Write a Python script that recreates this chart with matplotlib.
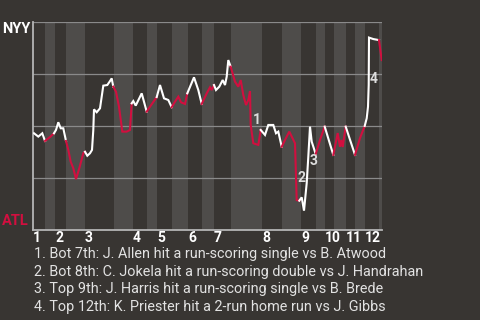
import matplotlib
matplotlib.use("Agg")
import matplotlib.pyplot as plt
import numpy as np

# ---- data -------------------------------------------------------------
# game progress (play position) and NYY win probability
progress = [1, 5.3, 9.3, 12, 17, 21, 23, 25.3, 27.7, 30.3, 33, 35.3, 37.7, 40.3, 43,
            46.3, 50.3, 52, 54.3, 57, 59, 60.3, 61, 63.7, 67, 68.7, 70.3, 74.3, 77,
            78.7, 80.3, 83, 86, 89.3, 93.7, 97, 98.7, 100.3, 102.7, 108.7, 113.7, 117,
            123.7, 127, 131, 135.3, 138.7, 142, 145.3, 148, 152, 154.3, 161, 165.3,
            168.7, 173.7, 177, 178.7, 181, 183, 186.3, 189.7, 192, 193.7, 195.3, 197.7,
            202, 205.3, 207.7, 210.3, 213, 215.3, 217, 217.7, 220.3, 225.3, 227.7, 232,
            235.3, 240.3, 243, 245.3, 248.7, 252, 256.3, 262, 263.7, 266.3, 268.7, 271,
            273.7, 275.3, 277, 278.7, 282.7, 287, 291.7, 300.3, 304.7, 307, 308.3,
            309.7, 312.7, 322, 327, 331.7, 333.7, 335, 335.7, 336, 340.3, 346, 348.7]
win_prob = [0.465, 0.449, 0.465, 0.428, 0.447, 0.465, 0.481, 0.518, 0.489, 0.489, 0.428,
            0.385, 0.328, 0.297, 0.245, 0.297, 0.369, 0.376, 0.357, 0.369, 0.385, 0.481,
            0.580, 0.566, 0.585, 0.641, 0.694, 0.697, 0.716, 0.729, 0.689, 0.665, 0.593,
            0.473, 0.473, 0.481, 0.609, 0.620, 0.598, 0.657, 0.569, 0.593, 0.639, 0.697,
            0.633, 0.625, 0.590, 0.617, 0.641, 0.614, 0.606, 0.657, 0.734, 0.673, 0.606,
            0.657, 0.686, 0.673, 0.697, 0.673, 0.689, 0.721, 0.697, 0.737, 0.817, 0.785,
            0.713, 0.689, 0.721, 0.649, 0.601, 0.625, 0.668, 0.505, 0.417, 0.409, 0.481,
            0.457, 0.505, 0.505, 0.465, 0.473, 0.400, 0.433, 0.473, 0.417, 0.144, 0.141,
            0.157, 0.093, 0.225, 0.352, 0.497, 0.425, 0.365, 0.433, 0.497, 0.361, 0.466,
            0.400, 0.433, 0.399, 0.497, 0.361, 0.442, 0.500, 0.537, 0.593, 0.697, 0.925,
            0.918, 0.913, 0.817]
# half-inning boundaries (top 1, bot 1, top 2, ...)
half_bounds = [0, 12, 22, 33, 52, 81, 100, 114, 124, 139, 155, 169, 181, 198, 229,
               249, 268, 283, 292, 301, 313, 322, 332, 346, 349]
innings = ["1", "2", "3", "4", "5", "6", "7", "8", "9", "10", "11", "12"]
teams = ["NYY", "ATL"]
events = ["1. Bot 7th: J. Allen hit a run-scoring single vs B. Atwood",
          "2. Bot 8th: C. Jokela hit a run-scoring double vs J. Handrahan",
          "3. Top 9th: J. Harris hit a run-scoring single vs B. Brede",
          "4. Top 12th: K. Priester hit a 2-run home run vs J. Gibbs"]
event_labels = ["1", "2", "3", "4"]
event_x = [223.5, 269, 280.5, 341]
event_p = [0.529, 0.25, 0.334, 0.726]

# ---- style ------------------------------------------------------------
BG = "#383532"
BAND = "#4e4c4a"
GRID = "#8a8a8a"
RED = "#d10f3f"
WHITE = "#ffffff"
plt.rcParams['font.family'] = ['Roboto', 'DejaVu Sans']

fig = plt.figure(figsize=(4.8, 3.2), dpi=100, facecolor=BG)
ax = fig.add_axes([33 / 480, 90 / 320, 349 / 480, 208 / 320], facecolor=BG)
ax.set_xlim(half_bounds[0], half_bounds[-1])
ax.set_ylim(0, 1)

for i in range(len(half_bounds) - 1):
    if i % 2 == 1:
        ax.axvspan(half_bounds[i], half_bounds[i + 1], color=BAND, lw=0, zorder=0)

for g in [0.25, 0.5, 0.75, 1.0]:
    ax.axhline(g, color=GRID, lw=0.9, zorder=1)

for s in ["top", "right"]:
    ax.spines[s].set_visible(False)
for s in ["left", "bottom"]:
    ax.spines[s].set_color("#b5b5b5")
    ax.spines[s].set_linewidth(1.3)
ax.set_xticks([])
ax.set_yticks([])

# line, coloured by batting team of each half inning
x = np.array(progress)
y = np.array(win_prob)
half_idx = np.searchsorted(half_bounds, x, side="left") - 1
half_idx = np.clip(half_idx, 0, len(half_bounds) - 2)
for h in range(len(half_bounds) - 1):
    idx = np.where(half_idx == h)[0]
    if len(idx) == 0:
        continue
    start = max(idx[0] - 1, 0)
    seg = np.arange(start, idx[-1] + 1)
    ax.plot(x[seg], y[seg], color=WHITE if h % 2 == 0 else RED, lw=1.5,
            solid_joinstyle="miter", zorder=3)

for lab, ex, ep in zip(event_labels, event_x, event_p):
    ax.text(ex, ep, lab, color="#dddddd", fontsize=10, fontweight="bold",
            ha="center", va="center", zorder=4)

trans = ax.get_xaxis_transform()
for k, lab in enumerate(innings):
    ax.text(half_bounds[2 * k], -0.058, lab, transform=trans, color=WHITE,
            fontsize=10, fontweight="bold", ha="left", va="baseline")

fig.text(2 / 480, 1 - 33 / 320, teams[0], color=WHITE, fontsize=10.5,
         fontweight="bold", ha="left", va="baseline")
fig.text(2 / 480, 1 - 225 / 320, teams[1], color=RED, fontsize=10.5,
         fontweight="bold", ha="left", va="baseline")

for k, t in enumerate(events):
    fig.text(34 / 480, 1 - (258 + 17.7 * k) / 320, t, color="#e2e2e2",
             fontsize=10.4, ha="left", va="baseline")

fig.savefig("out.png", dpi=100, facecolor=BG)
